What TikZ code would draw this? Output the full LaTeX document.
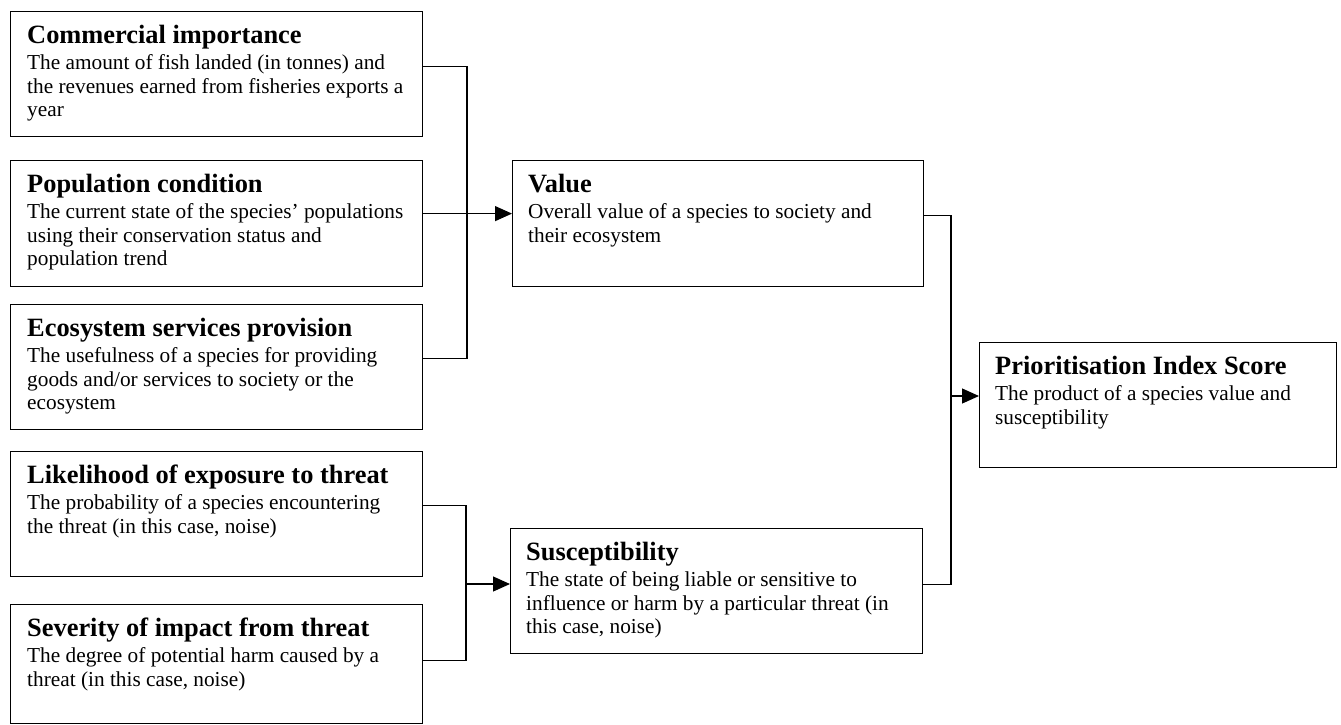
\documentclass[tikz,border=0pt]{standalone}
\usepackage{fontspec}
\setmainfont{Liberation Serif}
\usetikzlibrary{arrows.meta,calc}
\tikzset{
  box/.style={draw=black, line width=1.2pt, fill=white, anchor=north west, inner sep=0pt},
  txt/.style={anchor=north west, align=left, inner sep=0pt, font=\fontsize{21.3}{23.5}\selectfont},
  conn/.style={draw=black, line width=1.2pt},
  arr/.style={conn, -{Triangle[length=17pt,width=15pt]}},
}
\newcommand{\ttl}[1]{{\fontsize{26.4}{28}\selectfont\bfseries #1}\\[2.5pt]}
\begin{document}
\begin{tikzpicture}[x=1pt,y=-1pt]
\useasboundingbox (0,0) rectangle (1341,724);
% boxes
\node[box, minimum width=411.5pt, minimum height=125pt] (ci) at (10,11) {};
\node[box, minimum width=411.5pt, minimum height=126pt] (pc) at (10,160) {};
\node[box, minimum width=411.5pt, minimum height=125pt] (es) at (10,304) {};
\node[box, minimum width=411.5pt, minimum height=125pt] (lk) at (10,451) {};
\node[box, minimum width=411.5pt, minimum height=118.5pt] (sv) at (10,604) {};
\node[box, minimum width=411pt, minimum height=126pt] (va) at (512,160) {};
\node[box, minimum width=412pt, minimum height=125pt] (su) at (510,528) {};
\node[box, minimum width=357pt, minimum height=125pt] (pi) at (979,342) {};
% texts
\node[txt] (ci-t) at ([shift={(17pt,-14pt)}]ci.north west) {\ttl{Commercial importance}The amount of fish landed (in tonnes) and\\the revenues earned from fisheries exports a\\year};
\node[txt] (pc-t) at ([shift={(17pt,-14pt)}]pc.north west) {\ttl{Population condition}The current state of the species’ populations\\using their conservation status and\\population trend};
\node[txt] (es-t) at ([shift={(17pt,-14pt)}]es.north west) {\ttl{Ecosystem services provision}The usefulness of a species for providing\\goods and/or services to society or the\\ecosystem};
\node[txt] (lk-t) at ([shift={(17pt,-14pt)}]lk.north west) {\ttl{Likelihood of exposure to threat}The probability of a species encountering\\the threat (in this case, noise)};
\node[txt] (sv-t) at ([shift={(17pt,-14pt)}]sv.north west) {\ttl{Severity of impact from threat}The degree of potential harm caused by a\\threat (in this case, noise)};
\node[txt] (va-t) at ([shift={(16pt,-14pt)}]va.north west) {\ttl{Value}Overall value of a species to society and\\their ecosystem};
\node[txt] (su-t) at ([shift={(16pt,-14pt)}]su.north west) {\ttl{Susceptibility}The state of being liable or sensitive to\\influence or harm by a particular threat (in\\this case, noise)};
\node[txt] (pi-t) at ([shift={(16pt,-14pt)}]pi.north west) {\ttl{Prioritisation Index Score}The product of a species value and\\susceptibility};
% junctions
\coordinate (jv) at (467,213);
\coordinate (js) at (466,584);
\coordinate (jp) at (951,396);
% value group
\draw[conn] ([yshift=7.5pt]ci.east) -| (jv) |- ([yshift=8.5pt]es.east);
\draw[arr] ([yshift=10pt]pc.east) -- ([yshift=10pt]pc.east -| va.west);
% susceptibility group
\draw[conn] ([yshift=8.5pt]lk.east) -| (js) |- ([yshift=3.5pt]sv.east);
\draw[arr] (js) -- (js -| su.west);
% prioritisation
\draw[conn] ([yshift=8.5pt]va.east) -| (jp) |- ([yshift=7pt]su.east);
\draw[arr] (jp) -- (jp -| pi.west);
\end{tikzpicture}
\end{document}
